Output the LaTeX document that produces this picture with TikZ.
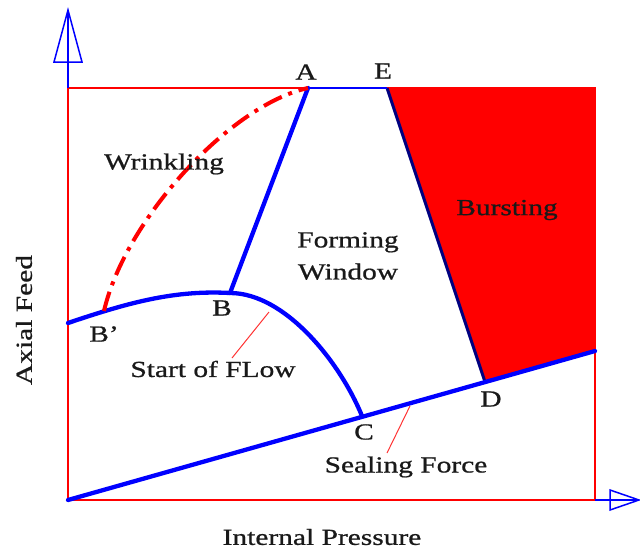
\documentclass[tikz,border=0pt]{standalone}
\usepackage{fontspec}
\setmainfont{Liberation Serif}[FakeStretch=1.28, FakeBold=0.8]
\usepackage{tikz}
\usetikzlibrary{calc}

\begin{document}
\begin{tikzpicture}[x=1pt, y=-1pt,
  frame/.style={draw=red, line width=1.5pt},
  axisline/.style={draw=blue, line width=1.5pt, line join=miter},
  limit/.style={draw=blue, line width=4.3pt, line cap=round, line join=round},
  wrinkle/.style={draw=red, line width=4pt, dash pattern=on 20pt off 7pt on 4pt off 7pt},
  leader/.style={draw=red!80, line width=1pt},
  lbl/.style={font=\fontsize{23}{32}\selectfont, inner sep=0pt, text=black!90}
]
  \useasboundingbox (0,0) rectangle (640,554);

  \coordinate (O) at (68,500);
  \coordinate (TL) at (68,88);
  \coordinate (TR) at (595,88);
  \coordinate (BR) at (595,500);
  \coordinate (R) at (595,351);
  \coordinate (A) at (308,88);
  \coordinate (E) at (387,88);
  \coordinate (B) at (230,293);
  \coordinate (Bp) at (104,311);
  \coordinate (L) at (68,323);
  \coordinate (C) at (362,416);
  \coordinate (D) at (485,382);
  \coordinate (ytip) at (68,10);
  \coordinate (xtip) at (639,500);

  % frame and axes
  \draw[frame] (TL) rectangle (BR);
  \draw[axisline] (TL) -- (ytip);
  \draw[axisline] (ytip) -- ++(-14,52) -- ++(28,0) -- cycle;
  \draw[axisline] (BR) -- (xtip);
  \draw[axisline] (xtip) -- ++(-29,-10) -- ++(0,20) -- cycle;

  % bursting region
  \fill[red] (E) -- (TR) -- (R) -- (D) -- cycle;
  \draw[draw=blue!50!black, line width=3pt] (E) -- (D);
  \draw[draw=blue, line width=2pt] (A) -- (E);

  % limit curves
  \draw[limit] (O) -- (R);
  \draw[limit] (L) .. controls (130,302) and (175,290) .. (B)
                   .. controls (285,293) and (340,362) .. (C);
  \draw[limit] (B) -- (A);
  \draw[wrinkle] (Bp) .. controls (125,220) and (230,105) .. (A);

  % labels
  \node[lbl] (labA) at (306,72) {A};
  \node[lbl] (labE) at (383,71) {E};
  \node[lbl] (labB) at (222,308) {B};
  \node[lbl] (labBp) at (104,334) {B'};
  \node[lbl] (labC) at (364,432) {C};
  \node[lbl] (labD) at (491,399) {D};
  \node[lbl] (wrinkling) at (164,164) {Wrinkling};
  \node[lbl] (bursting) at (507,210) {Bursting};
  \node[lbl, align=center] (window) at (348,256) {Forming\\Window};
  \node[lbl] (flow) at (213,369) {Start of FLow};
  \node[lbl] (sealing) at (406,467) {Sealing Force};
  \node[lbl] (xname) at (322,537) {Internal Pressure};
  \node[lbl, rotate=90] (yname) at (24,320) {Axial Feed};

  \coordinate (flowfoot) at (232,358);
  \coordinate (flowhead) at (269,312);
  \coordinate (sealfoot) at (387,453);
  \coordinate (sealhead) at (410,406);
  \draw[leader] (flowfoot) -- (flowhead);
  \draw[leader] (sealfoot) -- (sealhead);
\end{tikzpicture}
\end{document}
